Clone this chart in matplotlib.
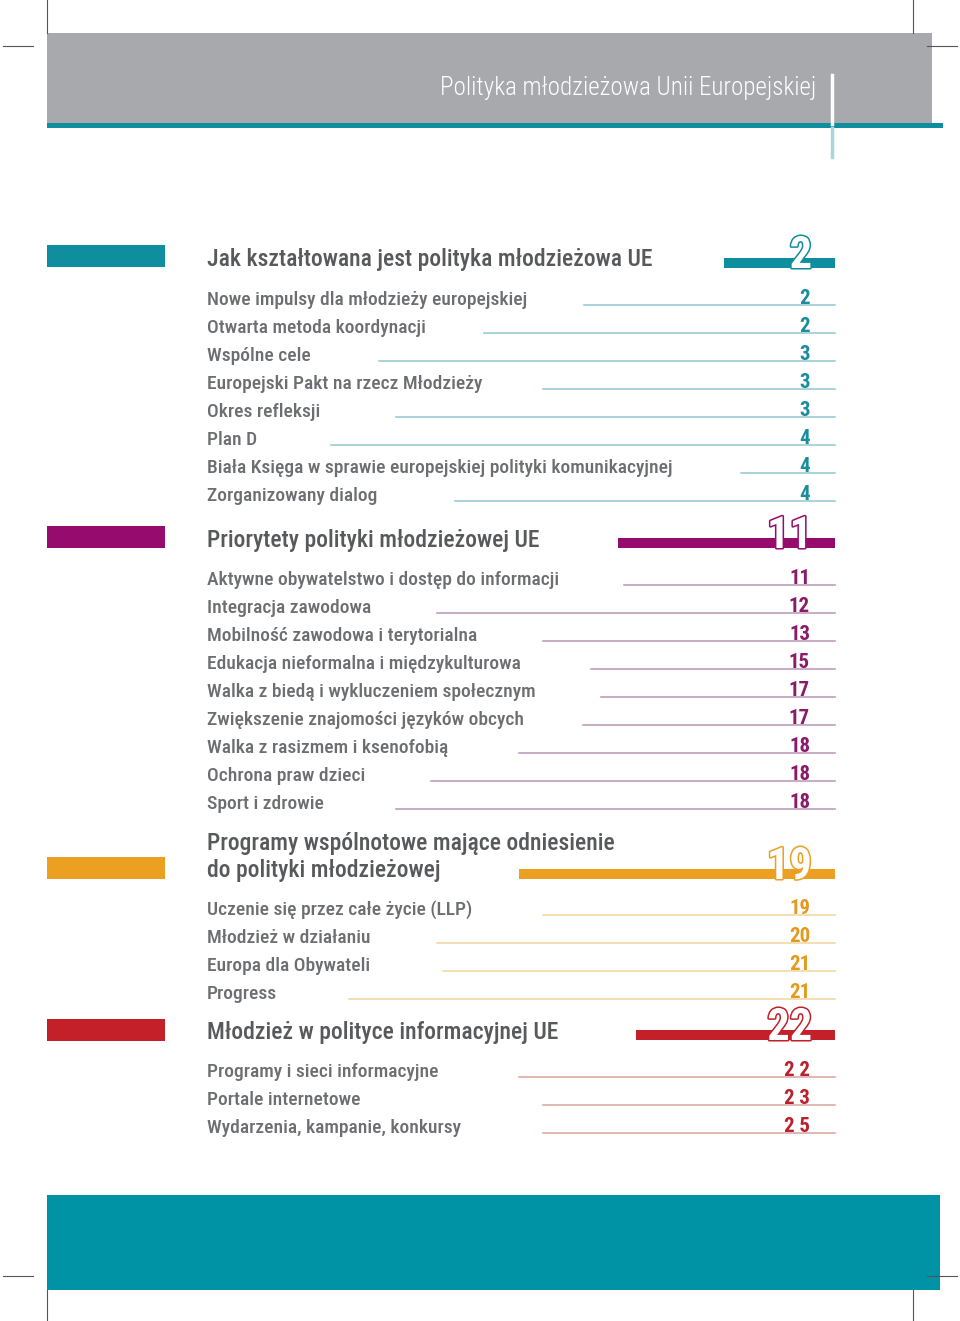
import matplotlib
matplotlib.use("Agg")
import matplotlib.pyplot as plt
import matplotlib.patheffects as pe
from matplotlib.patches import Rectangle

FONT = ["Roboto Condensed", "DejaVu Sans"]
plt.rcParams["font.family"] = FONT

PAGE_TITLE = "Polityka młodzieżowa Unii Europejskiej"

# sections: heading, start page
SECTION_TITLES = [
    "Jak kształtowana jest polityka młodzieżowa UE",
    "Priorytety polityki młodzieżowej UE",
    "Programy wspólnotowe mające odniesienie\ndo polityki młodzieżowej",
    "Młodzież w polityce informacyjnej UE",
]
SECTION_PAGES = ["2", "11", "19", "22"]

ITEMS_1 = ["Nowe impulsy dla młodzieży europejskiej", "Otwarta metoda koordynacji",
           "Wspólne cele", "Europejski Pakt na rzecz Młodzieży", "Okres refleksji",
           "Plan D", "Biała Księga w sprawie europejskiej polityki komunikacyjnej",
           "Zorganizowany dialog"]
PAGES_1 = ["2", "2", "3", "3", "3", "4", "4", "4"]

ITEMS_2 = ["Aktywne obywatelstwo i dostęp do informacji", "Integracja zawodowa",
           "Mobilność zawodowa i terytorialna", "Edukacja nieformalna i międzykulturowa",
           "Walka z biedą i wykluczeniem społecznym", "Zwiększenie znajomości języków obcych",
           "Walka z rasizmem i ksenofobią", "Ochrona praw dzieci", "Sport i zdrowie"]
PAGES_2 = ["11", "12", "13", "15", "17", "17", "18", "18", "18"]

ITEMS_3 = ["Uczenie się przez całe życie (LLP)", "Młodzież w działaniu",
           "Europa dla Obywateli", "Progress"]
PAGES_3 = ["19", "20", "21", "21"]

ITEMS_4 = ["Programy i sieci informacyjne", "Portale internetowe",
           "Wydarzenia, kampanie, konkursy"]
PAGES_4 = ["2 2", "2 3", "2 5"]

# layout (pixel coordinates of the page)
MAIN_COLORS = ["#0E8E9F", "#960B6E", "#EBA021", "#C4202A"]
NUM_COLORS = ["#1A8C9C", "#8A1A6A", "#E39A1E", "#B8222C"]
RULE_COLORS = ["#8FC7D0", "#B993B5", "#F2D59C", "#D9A39C"]
HEAD_BASE = [266, 547, 877, 1039]      # baseline of the (last) heading line
HEAD_BAR_X = [724, 618, 519, 636]
HEAD_BAR_BOTTOM = [268, 548, 879, 1040]
LEFT_BAR_Y = [256, 537, 868, 1030]
ITEM_Y = [[298, 326, 354, 382, 410, 438, 466, 494],
          [578, 606, 634, 662, 690, 718, 746, 774, 802],
          [908, 936, 964, 992],
          [1070, 1098, 1126]]
RULE_X = [[584, 484, 379, 543, 396, 331, 741, 455],
          [624, 437, 543, 591, 601, 583, 519, 431, 396],
          [543, 437, 443, 349],
          [519, 543, 543]]

ITEMS = [ITEMS_1, ITEMS_2, ITEMS_3, ITEMS_4]
PAGES = [PAGES_1, PAGES_2, PAGES_3, PAGES_4]

TEXT_GREY = "#6D6E71"
HEAD_GREY = "#58595B"

fig = plt.figure(figsize=(9.6, 13.21), dpi=100)
ax = fig.add_axes([0, 0, 1, 1])
ax.set_xlim(0, 960)
ax.set_ylim(1321, 0)
ax.axis("off")

# crop marks
mark = dict(color="#555555", lw=0.8)
for x in (47, 913):
    ax.plot([x, x], [0, 33], **mark)
    ax.plot([x, x], [1290, 1321], **mark)
for y in (46, 1276):
    ax.plot([3, 33], [y, y], **mark)
    ax.plot([927, 957], [y, y], **mark)

# header
ax.add_patch(Rectangle((47, 33), 885, 91, color="#A7A9AC", lw=0))
ax.add_patch(Rectangle((47, 123), 896, 5, color="#0E8E9F", lw=0))
ax.text(816, 88, PAGE_TITLE, color="white", fontsize=18, fontweight="light",
        ha="right", va="center")
ax.plot([832, 832], [75, 124], color="white", lw=2.5)
ax.plot([832, 832], [128, 157], color="#A9D6DD", lw=2.5)

# footer
ax.add_patch(Rectangle((47, 1195), 893, 95, color="#0092A5", lw=0))

for s in range(4):
    col = MAIN_COLORS[s]
    ax.add_patch(Rectangle((47, LEFT_BAR_Y[s] - 11), 118, 22, color=col, lw=0))

    lines = SECTION_TITLES[s].split("\n")
    for k, line in enumerate(lines):
        ax.text(207, HEAD_BASE[s] - 27 * (len(lines) - 1 - k), line, color=HEAD_GREY,
                fontsize=17, fontweight="medium", ha="left", va="baseline")

    ax.add_patch(Rectangle((HEAD_BAR_X[s], HEAD_BAR_BOTTOM[s] - 10),
                           835 - HEAD_BAR_X[s], 10, color=col, lw=0, zorder=2))
    ax.text(812, HEAD_BAR_BOTTOM[s], SECTION_PAGES[s], color="white", fontsize=32,
            fontweight="bold", ha="right", va="baseline", zorder=3,
            path_effects=[pe.Stroke(linewidth=2.2, foreground=col), pe.Normal()])

    for name, page, y, rx in zip(ITEMS[s], PAGES[s], ITEM_Y[s], RULE_X[s]):
        ax.text(207, y + 7, name, color=TEXT_GREY, fontsize=14, fontweight="medium",
                ha="left", va="baseline")
        ax.plot([rx, 835], [y + 7, y + 7], color=RULE_COLORS[s], lw=1.1)
        ax.text(810, y + 6, page, color=NUM_COLORS[s], fontsize=15, fontweight="bold",
                ha="right", va="baseline")

fig.savefig("out.png", dpi=100)
